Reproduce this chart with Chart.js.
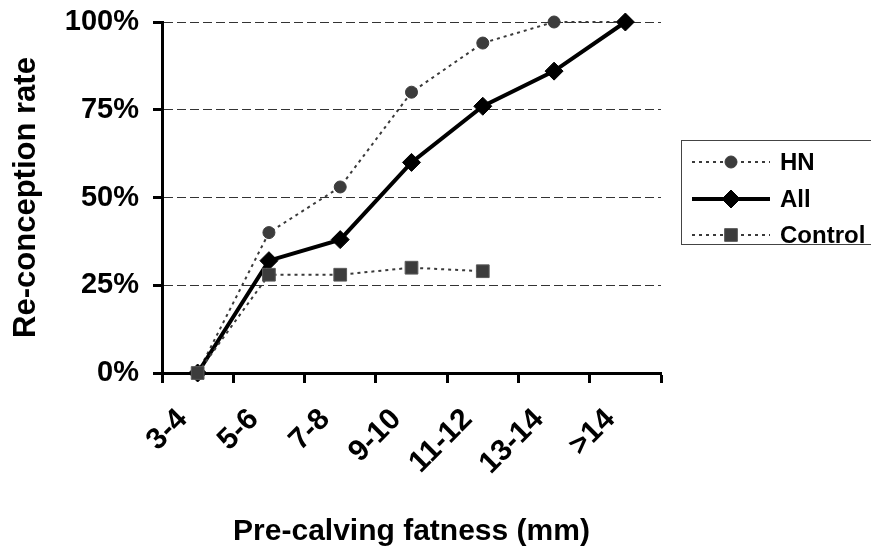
<!DOCTYPE html>
<html>
<head>
<meta charset="utf-8">
<script src="https://cdn.jsdelivr.net/npm/chart.js@4.4.1/dist/chart.umd.min.js"></script>
<style>
  html, body { margin: 0; padding: 0; background: #fff; }
  #wrap { width: 871px; height: 551px; }
</style>
</head>
<body>
<div id="wrap"><canvas id="chart" width="871" height="551"></canvas></div>
<script>
const categories = ['3-4', '5-6', '7-8', '9-10', '11-12', '13-14', '>14'];
const hnRates = [0, 40, 53, 80, 94, 100, 100];
const allRates = [0, 32, 38, 60, 76, 86, 100];
const controlRates = [0, 28, 28, 30, 29, null, null];
const yTicks = [0, 25, 50, 75, 100];

const FONT = "'Liberation Sans', Arial, Helvetica, sans-serif";

// Legend box drawn by hand: line sample with the marker in the middle
const sampleLegend = {
  id: 'sampleLegend',
  afterDraw(chart) {
    const ctx = chart.ctx;
    const rows = [162, 199, 235];
    ctx.save();
    ctx.strokeStyle = '#444';
    ctx.lineWidth = 1;
    ctx.strokeRect(681.5, 140.5, 190, 104);
    chart.data.datasets.forEach((ds, i) => {
      const y = rows[i];
      ctx.beginPath();
      ctx.setLineDash(ds.borderDash || []);
      ctx.strokeStyle = ds.borderColor;
      ctx.lineWidth = ds.borderWidth;
      ctx.moveTo(692, y);
      ctx.lineTo(770, y);
      ctx.stroke();
      ctx.setLineDash([]);
      ctx.fillStyle = ds.pointBackgroundColor;
      ctx.strokeStyle = ds.pointBorderColor;
      ctx.lineWidth = ds.pointBorderWidth;
      Chart.helpers.drawPoint(ctx, {
        pointStyle: ds.pointStyle, radius: ds.pointRadius, rotation: 0, borderWidth: ds.pointBorderWidth
      }, 731, y);
      ctx.fillStyle = '#000';
      ctx.font = `bold 24px ${FONT}`;
      ctx.textBaseline = 'middle';
      ctx.textAlign = 'left';
      ctx.fillText(ds.label, 780, y + 1);
    });
    ctx.restore();
  }
};

new Chart(document.getElementById('chart'), {
  type: 'line',
  data: {
    labels: categories,
    datasets: [
      {
        label: 'HN', data: hnRates, order: 3, clip: false, tension: 0,
        borderColor: '#3a3a3a', borderWidth: 2, borderDash: [3, 4],
        pointStyle: 'circle', pointRadius: 6,
        pointBackgroundColor: '#3c3c3c', pointBorderColor: '#3c3c3c', pointBorderWidth: 1
      },
      {
        label: 'All', data: allRates, order: 2, clip: false, tension: 0,
        borderColor: '#000', borderWidth: 4,
        pointStyle: 'rectRot', pointRadius: 9,
        pointBackgroundColor: '#000', pointBorderColor: '#000', pointBorderWidth: 1
      },
      {
        label: 'Control', data: controlRates, order: 1, clip: false, tension: 0,
        borderColor: '#3a3a3a', borderWidth: 2, borderDash: [3, 4],
        pointStyle: 'rect', pointRadius: 9,
        pointBackgroundColor: '#3c3c3c', pointBorderColor: '#5a5a5a', pointBorderWidth: 1
      }
    ]
  },
  options: {
    responsive: false,
    animation: false,
    devicePixelRatio: 1,
    layout: { padding: { left: 0, top: 22, right: 210, bottom: 0 } },
    plugins: { legend: { display: false }, tooltip: { enabled: false } },
    scales: {
      x: {
        type: 'category',
        offset: true,
        grid: { display: true, offset: true, drawOnChartArea: false, tickLength: 10, tickWidth: 3, tickColor: '#000' },
        border: { color: '#000', width: 3 },
        ticks: {
          minRotation: 45, maxRotation: 45, padding: 19, labelOffset: -15, color: '#000',
          font: { family: FONT, size: 30, weight: 'bold' }
        },
        title: {
          display: true, text: 'Pre-calving fatness (mm)', color: '#000',
          font: { family: FONT, size: 30, weight: 'bold' },
          padding: { top: 0, bottom: 1 }
        },
        afterFit(scale) {
          scale.height = 178;
          scale.paddingLeft = 0;
          scale.paddingRight = 0;
        }
      },
      y: {
        min: 0, max: 100,
        afterBuildTicks(scale) { scale.ticks = yTicks.map(v => ({ value: v })); },
        grid: { color: '#333', lineWidth: 1, tickLength: 9, tickWidth: 3, tickColor: '#000', tickBorderDash: [] },
        border: { color: '#000', width: 3, dash: [9, 4] },
        ticks: {
          padding: 14, color: '#000',
          font: { family: FONT, size: 29, weight: 'bold' },
          callback: v => v + '%'
        },
        title: {
          display: true, text: 'Re-conception rate', color: '#000',
          font: { family: FONT, size: 31, weight: 'bold' },
          padding: { top: 8, bottom: 0 }
        },
        afterFit(scale) {
          scale.width = 162;
          scale.paddingTop = 0;
          scale.paddingBottom = 0;
        }
      }
    }
  },
  plugins: [sampleLegend]
});
</script>
</body>
</html>
